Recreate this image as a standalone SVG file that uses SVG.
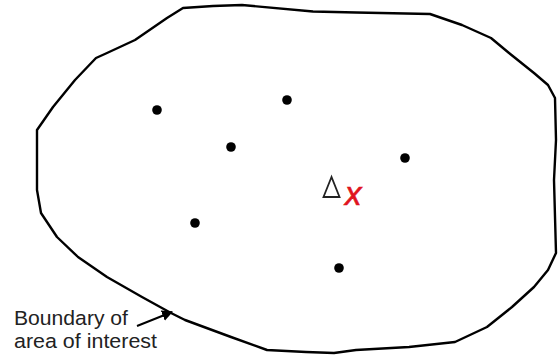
<svg xmlns="http://www.w3.org/2000/svg" width="558" height="358" viewBox="0 0 558 358">
<style>
.dot{fill:#000}
.lbl{font-family:"Liberation Sans",Arial,sans-serif;font-size:20.5px;fill:#222}
</style>
<defs>
<marker id="ah" viewBox="0 0 10 10" refX="9" refY="5" markerWidth="11" markerHeight="11" markerUnits="userSpaceOnUse" orient="auto">
<path d="M0,0 L10,5 L0,10 z" fill="#000"/>
</marker>
</defs>
<rect width="558" height="358" fill="#fff"/>
<g id="boundary">
<polygon points="183,8 213,6 242,5 313,11.5 356,12.5 430,14 462,25 491,38 509,53 534,73 548,85 555,98 556,140 554,180 556,253 548,270 534,287 512,307 487,327 455,342 409,347 356,350 334,353 306,352 267,350 231,337 185,320 171,313 142,297 107,277 78,257 57,237 41,213 37,190 37,163 37,130 53,107 75,80 96,58 107,53 135,40 167,18" fill="none" stroke="#000" stroke-width="2.4" stroke-linejoin="round"/>
</g>
<g id="points">
<circle class="dot" cx="157" cy="110" r="4.8"/>
<circle class="dot" cx="287" cy="100" r="4.8"/>
<circle class="dot" cx="231" cy="147" r="4.8"/>
<circle class="dot" cx="405" cy="158" r="4.8"/>
<circle class="dot" cx="195" cy="223" r="4.8"/>
<circle class="dot" cx="339" cy="268" r="4.8"/>
</g>
<g id="triangle">
<polygon points="331.5,177 323.5,197 339.5,197" fill="none" stroke="#222" stroke-width="1.8" stroke-linejoin="miter"/>
</g>
<g id="estimate">
<text x="345" y="205" font-family="'Liberation Sans',Arial,sans-serif" font-style="italic" font-size="33" fill="#e0141e" stroke="#e0141e" stroke-width="0.6">x</text>
</g>
<g id="label">
<text class="lbl" x="14" y="325" textLength="114" lengthAdjust="spacingAndGlyphs">Boundary of</text>
<text class="lbl" x="14" y="348" textLength="143" lengthAdjust="spacingAndGlyphs">area of interest</text>
</g>
<g id="connectors">
<line x1="137" y1="326" x2="172" y2="312" stroke="#000" stroke-width="2" marker-end="url(#ah)"/>
</g>
</svg>
